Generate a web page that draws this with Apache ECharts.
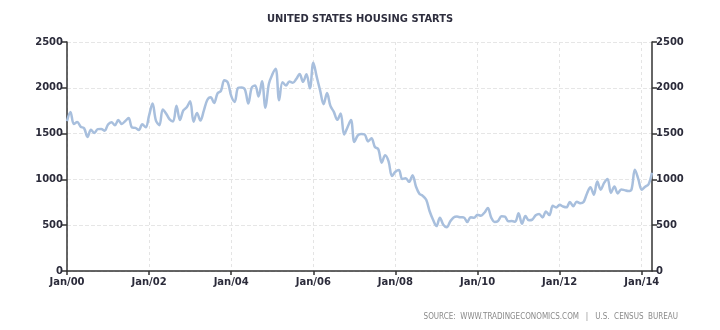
<!DOCTYPE html>
<html>
<head>
<meta charset="utf-8">
<script src="https://cdn.jsdelivr.net/npm/echarts@6/dist/echarts.min.js"></script>
<style>html,body{margin:0;padding:0;background:#fff}#c{width:720px;height:330px}</style>
</head>
<body>
<div id="c"></div>
<script>
// Monthly housing starts (thousands of units), Jan 2000 - Apr 2014
const years = ['00','01','02','03','04','05','06','07','08','09','10','11','12','13','14'];
const starts2000 = [1636,1737,1604,1626,1575,1559,1463,1541,1507,1549,1551,1532];
const starts2001 = [1600,1625,1590,1649,1605,1636,1670,1567,1562,1540,1602,1568];
const starts2002 = [1698,1829,1642,1592,1764,1717,1655,1633,1804,1648,1753,1788];
const starts2003 = [1853,1629,1726,1643,1751,1867,1897,1833,1939,1967,2083,2057];
const starts2004 = [1911,1846,1998,2003,1981,1828,2002,2024,1905,2072,1782,2042];
const starts2005 = [2144,2207,1864,2061,2025,2068,2054,2095,2151,2065,2147,1994];
const starts2006 = [2273,2119,1969,1821,1942,1802,1737,1650,1720,1491,1570,1649];
const starts2007 = [1409,1480,1495,1490,1415,1448,1354,1330,1183,1264,1197,1037];
const starts2008 = [1084,1103,1005,1013,973,1046,923,844,820,777,652,560];
const starts2009 = [490,582,505,478,540,585,594,586,585,534,588,581];
const starts2010 = [614,604,636,687,583,536,546,599,594,543,545,539];
const starts2011 = [630,517,600,554,561,608,623,585,650,610,711,694];
const starts2012 = [723,704,695,753,708,757,740,754,847,915,833,976];
const starts2013 = [888,962,1005,852,923,847,891,883,873,889,1105,1003];
const starts2014 = [888,920,947,1072];
const yTicks = [0,500,1000,1500,2000,2500];

const allYears = [starts2000,starts2001,starts2002,starts2003,starts2004,starts2005,starts2006,
  starts2007,starts2008,starts2009,starts2010,starts2011,starts2012,starts2013,starts2014];
const months = ['Jan','Feb','Mar','Apr','May','Jun','Jul','Aug','Sep','Oct','Nov','Dec'];
const cats = [], vals = [];
allYears.forEach((arr, yi) => arr.forEach((v, mi) => { cats.push(months[mi] + '/' + years[yi]); vals.push(v); }));

const every24 = (i) => i % 24 === 0;
const labelStyle = { color: '#2b2b3a', fontSize: 10, fontWeight: 'bold', fontFamily: 'DejaVu Sans' };
const yAxisCommon = {
  type: 'value', min: yTicks[0], max: yTicks[yTicks.length - 1], interval: 500,
  axisLine: { show: true, lineStyle: { color: '#333', width: 1.5 } },
  axisTick: { show: true, length: 5, lineStyle: { color: '#333', width: 1.5 } },
  axisLabel: Object.assign({ margin: 4, formatter: (v) => String(v) }, labelStyle)
};

const chart = echarts.init(document.getElementById('c'), null, { renderer: 'canvas' });
chart.setOption({
  animation: false,
  backgroundColor: '#fff',
  title: {
    text: 'UNITED STATES HOUSING STARTS', left: 'center', top: 9,
    textStyle: { color: '#2e2e3e', fontSize: 11, fontWeight: 'bold', fontFamily: 'DejaVu Sans Condensed, DejaVu Sans' }
  },
  grid: { left: 67, right: 68, top: 42, bottom: 59, containLabel: false },
  xAxis: {
    type: 'category', data: cats, boundaryGap: false,
    axisLine: { lineStyle: { color: '#333', width: 1.5 } },
    axisTick: { show: true, interval: every24, length: 4, lineStyle: { color: '#333', width: 1.5 } },
    axisLabel: Object.assign({ interval: every24, margin: 6 }, labelStyle),
    splitLine: { show: true, interval: every24, lineStyle: { color: '#e4e4e4', type: [3, 3], width: 1 } }
  },
  yAxis: [
    Object.assign({ position: 'left', splitLine: { show: true, lineStyle: { color: '#e6e6e6', type: [4, 2], width: 1 } } }, yAxisCommon),
    Object.assign({ position: 'right', splitLine: { show: false } }, yAxisCommon)
  ],
  series: [{
    type: 'line', data: vals, yAxisIndex: 0, smooth: 0.35, showSymbol: false,
    lineStyle: { color: '#a8bfdd', width: 2.5 }
  }],
  graphic: [{
    type: 'text', right: 42, top: 313,
    style: { text: 'SOURCE:  WWW.TRADINGECONOMICS.COM   |   U.S.  CENSUS  BUREAU', fill: '#8a8a8a', fontSize: 8, fontFamily: 'DejaVu Sans Condensed, DejaVu Sans' }
  }]
});
</script>
</body>
</html>
